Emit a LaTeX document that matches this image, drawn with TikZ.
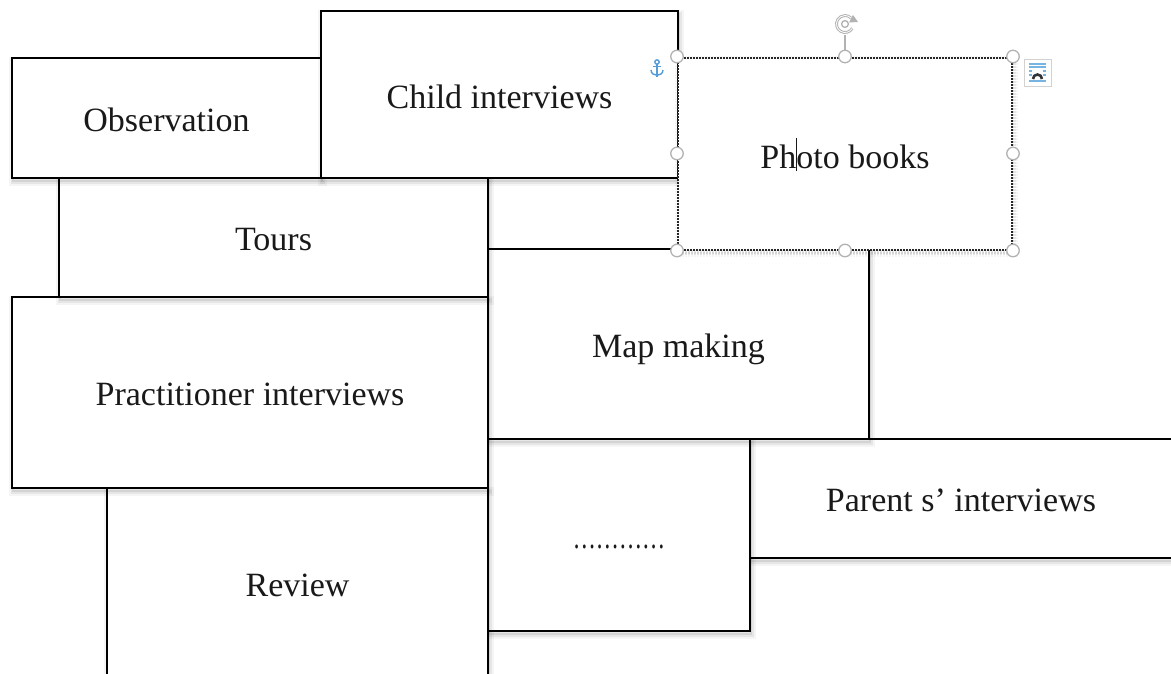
\documentclass[tikz,border=0pt]{standalone}
\usepackage{fontspec}
\setmainfont{Liberation Serif}
\usetikzlibrary{arrows.meta,calc}
\definecolor{anchorblue}{RGB}{86,156,214}
\definecolor{lineblue}{RGB}{120,180,225}
\newcommand\lowtext[2]{\raisebox{-#1}[\height][\depth]{#2}}
\tikzset{
  softshadow/.style={
    preaction={draw=black, opacity=0.04, line width=9pt, transform canvas={xshift=1pt,yshift=-3pt}},
    preaction={draw=black, opacity=0.06, line width=5pt, transform canvas={xshift=1pt,yshift=-3pt}},
    preaction={draw=black, opacity=0.08, line width=2pt, transform canvas={xshift=1pt,yshift=-3pt}}},
  box/.style={softshadow, draw=black, line width=1.8pt, fill=white, inner sep=0pt,
    font=\fontsize{34}{40}\selectfont, text=black!90},
  selbox/.style={softshadow, draw=black!85, densely dotted, line width=2pt, fill=white, inner sep=0pt,
    font=\fontsize{34}{40}\selectfont, text=black!90},
  handle/.style={circle, draw=gray!60, fill=white, line width=1.3pt, minimum size=12.5pt, inner sep=0pt},
}
\begin{document}
\begin{tikzpicture}[x=1pt,y=-1pt]
\useasboundingbox (0,0) rectangle (1171,673);
\fill[white] (0,0) rectangle (1171,673);
\begin{scope}
\clip (0,0) rectangle (1171,673);
\node[box, minimum width=422pt, minimum height=119pt] (parent) at (961,498.5) {\lowtext{2pt}{Parent s’ interviews}};
\node[box, minimum width=262pt, minimum height=192pt] (dots) at (619,535)
  {\lowtext{12pt}{\scalebox{0.68}[1]{…………}}};
\node[box, minimum width=381pt, minimum height=190pt] (review) at (297.5,583) {\lowtext{2pt}{Review}};
\node[box, minimum width=381pt, minimum height=190pt] (map) at (678.5,344) {\lowtext{5pt}{Map making}};
\node[box, minimum width=476pt, minimum height=191pt] (pract) at (250,392.5) {\lowtext{2pt}{Practitioner interviews}};
\node[box, minimum width=429pt, minimum height=119pt] (tours) at (273.5,237.5) {\lowtext{2pt}{Tours}};
\node[box, minimum width=309pt, minimum height=120pt] (obs) at (166.5,118) {\lowtext{2pt}{Observation}};
\node[box, minimum width=357pt, minimum height=167pt] (child) at (499.5,94.5) {\lowtext{2pt}{Child interviews}};
\node[selbox, minimum width=334pt, minimum height=192pt] (photo) at (845,153.5)
  {\lowtext{1pt}{Ph\makebox[0pt]{\rule[-0.08em]{0.7pt}{0.98em}}oto books}};
\end{scope}
% selection handles
\coordinate (rot) at (845,24);
\draw[gray!60, line width=1.1pt] (photo.north) -- ++(0,-22);
\foreach \a in {north west,north,north east,west,east,south west,south,south east}
  \node[handle] at (photo.\a) {};
% rotation handle
\draw[gray!60, line width=2.8pt] (rot) ++(30:8.5) arc (30:315:8.5);
\draw[white, line width=0.8pt] (rot) ++(30:8.5) arc (30:315:8.5);
\draw[gray!60, line width=1.3pt] (rot) circle (3.4pt);
\fill[gray!60] ($(rot)+(315:8.5)+(-2,4.5)$) -- ++(9,-0.5) -- ++(-5,-7) -- cycle;
% anchor icon
\begin{scope}[anchorblue, line width=1.4pt]
\draw (657,62) circle (2.2pt);
\draw (657,64.2) -- (657,76.5);
\draw (651,70) .. controls (651,77) and (663,77) .. (663,70);
\draw (653,66.5) -- (661,66.5);
\end{scope}
% layout options icon
\draw[gray!35, line width=1pt, fill=white] (1024,59.5) rectangle (1051,86.5);
\begin{scope}[lineblue, line width=1.2pt]
\draw (1029,64) -- (1046,64);
\draw (1029,67) -- (1046,67);
\draw (1029,71) -- (1032,71); \draw (1043,71) -- (1046,71);
\draw (1029,75) -- (1032,75); \draw (1043,75) -- (1046,75);
\draw (1029,81) -- (1046,81);
\end{scope}
\draw[black!80, line width=2.6pt] (1033,79) arc (180:360:4.5);
\end{tikzpicture}
\end{document}
